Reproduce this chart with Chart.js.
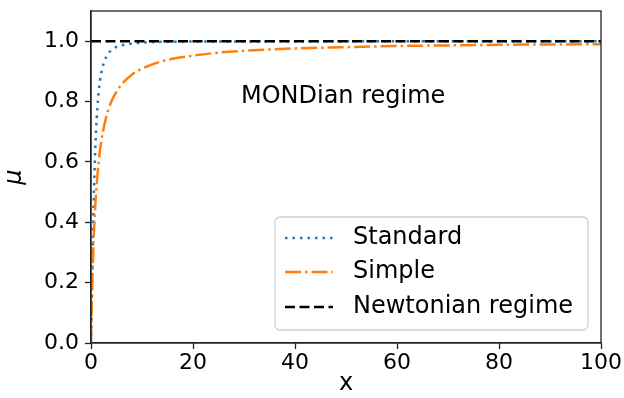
<!DOCTYPE html>
<html>
<head>
<meta charset="utf-8">
<script src="https://cdn.jsdelivr.net/npm/chart.js@4/dist/chart.umd.min.js"></script>
<style>
    html, body { margin: 0; padding: 0; background: #ffffff; }
    #wrap { width: 624px; height: 398px; }
</style>
</head>
<body>
<div id="wrap"><canvas id="muChart" width="624" height="398"></canvas></div>
<script>
/*==================================================
DATA
==================================================*/

const xValues = [0, 0.1, 0.2, 0.3, 0.5, 0.75, 1, 1.5, 2, 3, 4, 5, 6, 8, 10, 12, 15, 20, 25, 30, 40, 50, 60, 70, 80, 90, 100];

const standardMu = [0, 0.0995, 0.196, 0.287, 0.447, 0.6, 0.707, 0.832, 0.894, 0.949, 0.970, 0.981, 0.986, 0.992, 0.995, 0.997, 0.998, 0.999, 0.999, 0.999, 1.0, 1.0, 1.0, 1.0, 1.0, 1.0, 1.0];

const simpleMu = [0, 0.091, 0.167, 0.231, 0.333, 0.429, 0.5, 0.6, 0.667, 0.75, 0.8, 0.833, 0.857, 0.889, 0.909, 0.923, 0.938, 0.952, 0.962, 0.968, 0.976, 0.980, 0.984, 0.986, 0.988, 0.989, 0.990];

const newtonX = [0, 100];
const newtonMu = [1.0, 1.0];

const seriesLabels = ["Standard", "Simple", "Newtonian regime"];

const xTicks = [0, 20, 40, 60, 80, 100];
const yTicks = [0, 0.2, 0.4, 0.6, 0.8, 1.0];

const annotationText = "MONDian regime";
const annotationAt = { x: 29.4, y: 0.795 };

/*==================================================
HELPERS
==================================================*/

function toPoints(xs, ys) {

    return xs.map((x, i) => ({ x: x, y: ys[i] }));

}

const FONT = "'DejaVu Sans', sans-serif";

const colours = ["#1f77b4", "#ff7f0e", "#000000"];

const dashes = [[2.5, 5], [16, 4, 2.5, 4], [10, 4.5]];

/*==================================================
FRAME, ANNOTATION AND LEGEND PLUGIN
==================================================*/

const decorPlugin = {

    id: "decor",

    afterDraw(chart) {

        const ctx = chart.ctx;
        const area = chart.chartArea;
        const xs = chart.scales.x;
        const ys = chart.scales.y;

        ctx.save();

        // axes box
        ctx.strokeStyle = "#222222";
        ctx.lineWidth = 1.3;
        ctx.setLineDash([]);
        ctx.strokeRect(area.left, area.top, area.right - area.left, area.bottom - area.top);

        // annotation
        ctx.fillStyle = "#000000";
        ctx.font = "24px " + FONT;
        ctx.textAlign = "left";
        ctx.textBaseline = "alphabetic";
        ctx.fillText(annotationText, xs.getPixelForValue(annotationAt.x), ys.getPixelForValue(annotationAt.y));

        // legend
        const bx = 275, by = 217, bw = 313, bh = 113, r = 5;

        ctx.beginPath();
        ctx.moveTo(bx + r, by);
        ctx.arcTo(bx + bw, by, bx + bw, by + bh, r);
        ctx.arcTo(bx + bw, by + bh, bx, by + bh, r);
        ctx.arcTo(bx, by + bh, bx, by, r);
        ctx.arcTo(bx, by, bx + bw, by, r);
        ctx.closePath();
        ctx.fillStyle = "rgba(255,255,255,0.8)";
        ctx.fill();
        ctx.strokeStyle = "#d0d0d0";
        ctx.lineWidth = 1.3;
        ctx.stroke();

        const rowY = [238, 272, 307];

        seriesLabels.forEach((label, i) => {

            ctx.beginPath();
            ctx.setLineDash(dashes[i]);
            ctx.strokeStyle = colours[i];
            ctx.lineWidth = 2.5;
            ctx.moveTo(285, rowY[i]);
            ctx.lineTo(333, rowY[i]);
            ctx.stroke();

            ctx.setLineDash([]);
            ctx.fillStyle = "#000000";
            ctx.font = "24px " + FONT;
            ctx.textBaseline = "middle";
            ctx.fillText(label, 353, rowY[i]);

        });

        ctx.restore();

    }

};

/*==================================================
CHART
==================================================*/

const ctx = document.getElementById("muChart");

new Chart(ctx, {

    type: "line",

    data: {

        datasets: [

            {
                label: seriesLabels[0],
                data: toPoints(xValues, standardMu),
                borderColor: colours[0],
                borderDash: dashes[0],
                borderWidth: 2.5,
                pointRadius: 0,
                fill: false,
                cubicInterpolationMode: "monotone",
                order: 3
            },

            {
                label: seriesLabels[1],
                data: toPoints(xValues, simpleMu),
                borderColor: colours[1],
                borderDash: dashes[1],
                borderWidth: 2.5,
                pointRadius: 0,
                fill: false,
                cubicInterpolationMode: "monotone",
                order: 2
            },

            {
                label: seriesLabels[2],
                data: toPoints(newtonX, newtonMu),
                borderColor: colours[2],
                borderDash: dashes[2],
                borderWidth: 2.5,
                pointRadius: 0,
                fill: false,
                order: 1
            }

        ]

    },

    options: {

        responsive: false,
        animation: false,

        layout: {
            padding: { top: 11, right: 23, left: 0, bottom: 0 }
        },

        plugins: {
            legend: { display: false },
            tooltip: { enabled: false }
        },

        scales: {

            x: {
                type: "linear",
                min: 0,
                max: 100,
                afterBuildTicks: scale => { scale.ticks = xTicks.map(v => ({ value: v })); },
                afterFit: scale => { scale.height = 55; },
                ticks: {
                    color: "#000000",
                    font: { family: FONT, size: 22 },
                    padding: 1,
                    maxRotation: 0,
                    callback: v => String(v)
                },
                grid: {
                    drawOnChartArea: false,
                    tickLength: 6,
                    tickColor: "#222222",
                    tickWidth: 1.3
                },
                border: { color: "#222222", width: 1.3 },
                title: {
                    display: true,
                    text: "x",
                    color: "#000000",
                    font: { family: FONT, size: 24 },
                    padding: { top: -4, bottom: 0 }
                }
            },

            y: {
                type: "linear",
                min: 0,
                max: 1.1,
                afterBuildTicks: scale => { scale.ticks = yTicks.map(v => ({ value: v })); },
                afterFit: scale => {
                    scale.width = 91;
                    scale.paddingTop = 0;
                },
                ticks: {
                    color: "#000000",
                    font: { family: FONT, size: 22 },
                    padding: 6,
                    callback: v => Number(v).toFixed(1)
                },
                grid: {
                    drawOnChartArea: false,
                    tickLength: 6,
                    tickColor: "#222222",
                    tickWidth: 1.3
                },
                border: { color: "#222222", width: 1.3 },
                title: {
                    display: true,
                    text: "μ",
                    color: "#000000",
                    font: { family: FONT, size: 24, style: "italic" },
                    padding: { top: 0, bottom: 3 }
                }
            }

        }

    },

    plugins: [decorPlugin]

});
</script>
</body>
</html>
